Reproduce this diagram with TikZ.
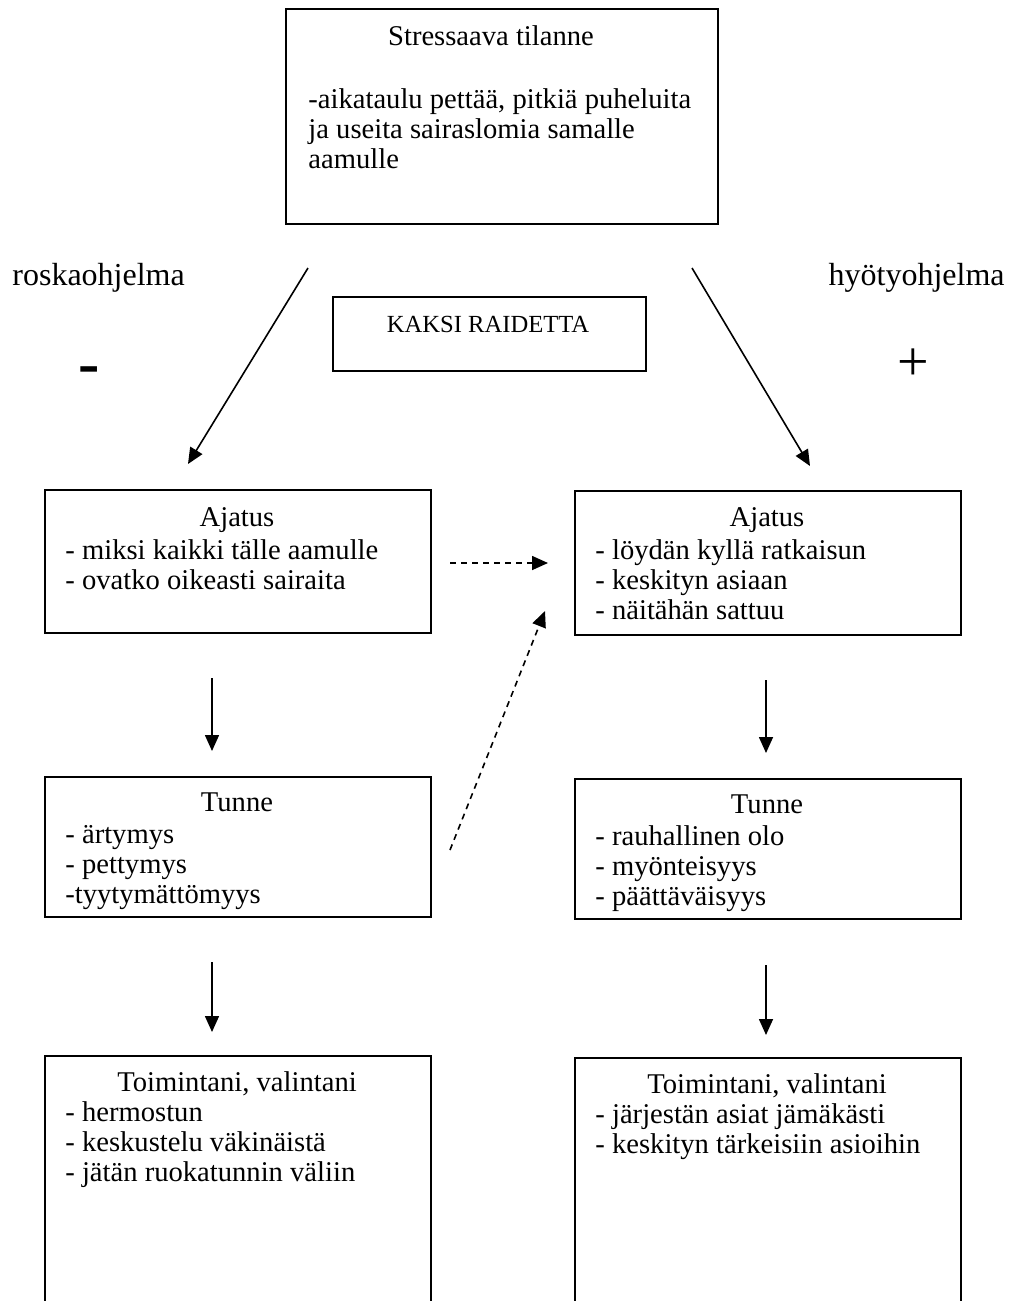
\documentclass[tikz,border=0pt]{standalone}
\usepackage{fontspec}
\setmainfont{Liberation Serif}
\usetikzlibrary{arrows.meta}

\begin{document}
\begin{tikzpicture}[x=0.5pt,y=-0.5pt,
  frame/.style={draw, line width=1.1pt, inner sep=0pt, anchor=north west,
    minimum width=193pt},
  head/.style={anchor=base, inner sep=0pt, font=\fontsize{14.3}{15.2}\selectfont},
  body/.style={anchor=base west, inner sep=0pt, align=flush left, text width=185pt,
    font=\fontsize{14.3}{15.2}\selectfont},
  side/.style={inner sep=0pt, font=\fontsize{16}{18}\selectfont},
  sign/.style={inner sep=0pt, font=\fontsize{28}{30}\selectfont},
  arr/.style={line width=0.8pt, -{Triangle[length=8pt,width=7pt]}},
  darr/.style={arr, dash pattern=on 3pt off 2.5pt},
]
% page area
\useasboundingbox (0,0) rectangle (1015,1301);
\clip (0,0) rectangle (1015,1301);
\fill[white] (0,0) rectangle (1015,1301);

% top situation box
\node[frame, minimum width=216pt, minimum height=107.5pt] (top) at (285,8) {};
\node[head] (topT) at (491,46) {Stressaava tilanne};
\node[body, text width=200pt, font=\fontsize{14.3}{15}\selectfont] (topB) at (308,108)
  {-aikataulu pettää, pitkiä puheluita\\ja useita sairaslomia samalle\\aamulle};

% side labels
\node[side, anchor=base west] (neg) at (12,285) {roskaohjelma};
\node[side, anchor=base east] (pos) at (1005,285) {hyötyohjelma};
\node[sign, font=\fontsize{32}{34}\selectfont\bfseries] (minus) at (89,376) {-};
\node[sign] (plus) at (913,365) {+};

% middle caption
\node[frame, minimum width=156.5pt, minimum height=37pt] (two) at (332,296) {};
\node[anchor=base, inner sep=0pt, font=\fontsize{12.3}{14}\selectfont] (twoT) at (488,332) {KAKSI RAIDETTA};

% left track
\node[frame, minimum height=71.5pt] (ajL) at (44,489) {};
\node[head] (ajLT) at (237,526) {Ajatus};
\node[body] (ajLB) at (65,559) {- miksi kaikki tälle aamulle\\- ovatko oikeasti sairaita};

\node[frame, minimum height=70pt] (tuL) at (44,776) {};
\node[head] (tuLT) at (237,811) {Tunne};
\node[body] (tuLB) at (65,843) {- ärtymys\\- pettymys\\-tyytymättömyys};

\node[frame, minimum height=160pt] (toL) at (44,1055) {};
\node[head] (toLT) at (237,1091) {Toimintani, valintani};
\node[body] (toLB) at (65,1121) {- hermostun\\- keskustelu väkinäistä\\- jätän ruokatunnin väliin};

% right track
\node[frame, minimum height=72pt] (ajR) at (574,490) {};
\node[head] (ajRT) at (767,526) {Ajatus};
\node[body] (ajRB) at (595,559) {- löydän kyllä ratkaisun\\- keskityn asiaan\\- näitähän sattuu};

\node[frame, minimum height=70pt] (tuR) at (574,778) {};
\node[head] (tuRT) at (767,813) {Tunne};
\node[body] (tuRB) at (595,845) {- rauhallinen olo\\- myönteisyys\\- päättäväisyys};

\node[frame, minimum height=160pt] (toR) at (574,1057) {};
\node[head] (toRT) at (767,1093) {Toimintani, valintani};
\node[body] (toRB) at (595,1123) {- järjestän asiat jämäkästi\\- keskityn tärkeisiin asioihin};

% connector end points
\coordinate (sL) at (308,268);  \coordinate (eL) at (188,464);
\coordinate (sR) at (692,268);  \coordinate (eR) at (810,466);
\coordinate (v1s) at (212,678); \coordinate (v1e) at (212,751);
\coordinate (v2s) at (766,680); \coordinate (v2e) at (766,753);
\coordinate (v3s) at (212,962); \coordinate (v3e) at (212,1032);
\coordinate (v4s) at (766,965); \coordinate (v4e) at (766,1035);
\coordinate (hs) at (450,563);  \coordinate (he) at (548,563);
\coordinate (ds) at (450,850);  \coordinate (de) at (545,611);

% connectors
\draw[arr] (sL) -- (eL);
\draw[arr] (sR) -- (eR);
\draw[arr] (v1s) -- (v1e);
\draw[arr] (v2s) -- (v2e);
\draw[arr] (v3s) -- (v3e);
\draw[arr] (v4s) -- (v4e);
\draw[darr] (hs) -- (he);
\draw[darr] (ds) -- (de);
\end{tikzpicture}
\end{document}
